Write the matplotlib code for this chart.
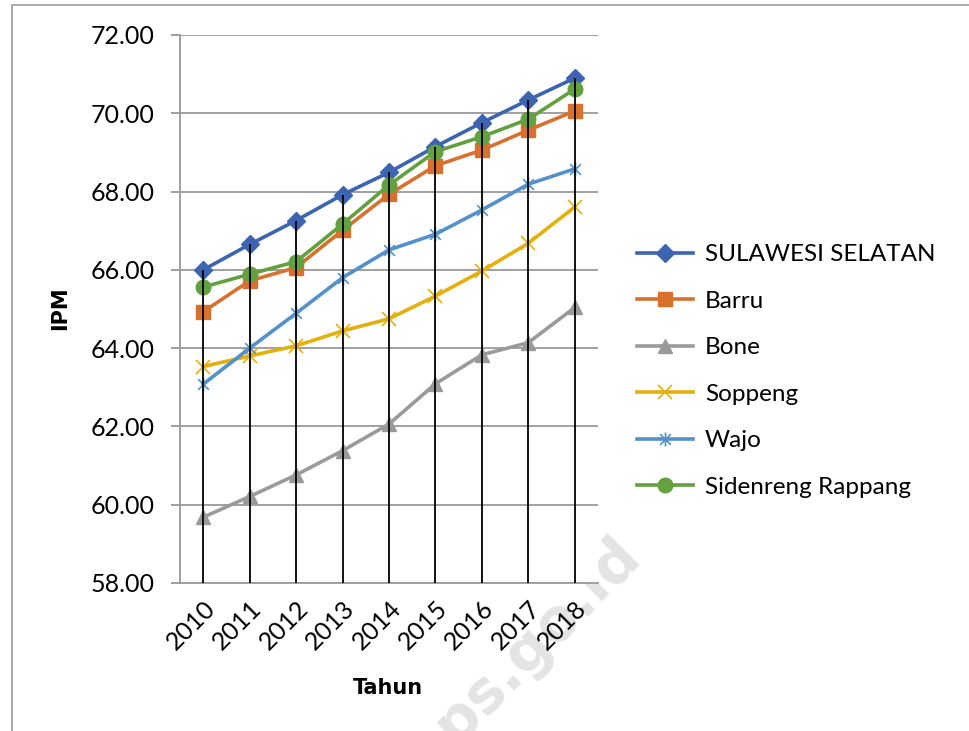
import matplotlib
matplotlib.use('Agg')
import matplotlib.pyplot as plt
from matplotlib.path import Path
from matplotlib.patches import Rectangle

years = ['2010', '2011', '2012', '2013', '2014', '2015', '2016', '2017', '2018']

sulsel = [66.00, 66.65, 67.26, 67.92, 68.49, 69.15, 69.76, 70.34, 70.90]
barru = [64.93, 65.72, 66.06, 67.01, 67.93, 68.66, 69.06, 69.57, 70.06]
bone = [59.68, 60.21, 60.76, 61.38, 62.06, 63.09, 63.83, 64.14, 65.04]
soppeng = [63.53, 63.80, 64.06, 64.44, 64.75, 65.33, 65.97, 66.68, 67.61]
wajo = [63.08, 64.00, 64.89, 65.80, 66.51, 66.91, 67.53, 68.19, 68.58]
sidrap = [65.56, 65.89, 66.21, 67.17, 68.17, 69.02, 69.40, 69.85, 70.62]

names = ['SULAWESI SELATAN', 'Barru', 'Bone', 'Soppeng', 'Wajo', 'Sidenreng Rappang']

# star marker like excel (x with a vertical bar)
star = Path([(-1, -1), (1, 1), (-1, 1), (1, -1), (0, -1.3), (0, 1.3)],
            [Path.MOVETO, Path.LINETO, Path.MOVETO, Path.LINETO, Path.MOVETO, Path.LINETO])

styles = [
    ('#3C64B1', 'D', 9),
    ('#D8702E', 's', 9.5),
    ('#9A9A9A', '^', 10),
    ('#E6B00C', 'x', 10),
    ('#5291CB', star, 10),
    ('#63A03F', 'o', 10.5),
]

plt.rcParams['font.family'] = ['Lato', 'DejaVu Sans']

fig = plt.figure(figsize=(9.7, 7.31), dpi=100)
ax = fig.add_axes([180 / 970, 1 - 583 / 731, 418 / 970, 548 / 731])

x = list(range(len(years)))
all_series = [sulsel, barru, bone, soppeng, wajo, sidrap]
for vals, name, (col, mk, ms) in zip(all_series, names, styles):
    if mk == 'x' or isinstance(mk, Path):
        ax.plot(x, vals, color=col, lw=2.6, marker=mk, ms=ms, mew=1.2,
                mec=col, label=name, zorder=3)
    else:
        ax.plot(x, vals, color=col, lw=2.6, marker=mk, ms=ms, mfc=col,
                mec=col, label=name, zorder=3)

# drop lines from top series down to axis
tops = [max(v) for v in zip(*all_series)]
ax.vlines(x, 58, tops, color='black', lw=1.3, zorder=4)

ax.set_xlim(-0.5, len(years) - 0.5)
ax.set_ylim(58, 72)
ax.set_yticks([58, 60, 62, 64, 66, 68, 70, 72])
ax.set_yticklabels([f'{v:.2f}' for v in ax.get_yticks()], fontsize=18)
ax.set_xticks(x)
ax.set_xticklabels(years, fontsize=18, rotation=45, ha='right', va='top',
                   rotation_mode='anchor')
ax.yaxis.grid(True, color='#A0A0A0', lw=1.4, zorder=0)
ax.tick_params(axis='y', length=6.5, width=1.4, color='#A0A0A0', pad=12)
ax.tick_params(axis='x', length=0, pad=10)
for side in ['top', 'right']:
    ax.spines[side].set_visible(False)
ax.spines['left'].set_color('#A0A0A0')
ax.spines['left'].set_linewidth(1.4)
ax.spines['bottom'].set_color('#A0A0A0')
ax.spines['bottom'].set_linewidth(1.4)
ax.set_axisbelow(True)

fig.text(388 / 970, 1 - 688 / 731, 'Tahun', fontsize=15, fontweight='bold',
         family='DejaVu Sans', ha='center', va='center')
fig.text(60 / 970, 1 - 308 / 731, 'IPM', fontsize=15, fontweight='bold',
         family='DejaVu Sans', ha='center', va='center', rotation=90)

fig.legend(loc='center left', bbox_to_anchor=(637 / 970, 1 - 371 / 731),
           frameon=False, fontsize=17.5, handlelength=2.3, handletextpad=0.5,
           labelspacing=1.05, borderpad=0, borderaxespad=0)

# outer chart frame
fig.patches.append(Rectangle((12 / 970, -0.1), 1.2, 1 - 5 / 731 + 0.1,
                             transform=fig.transFigure, fill=False,
                             edgecolor='#A0A0A0', lw=1.3))

# watermark
fig.text(522 / 970, 1 - 655 / 731, 'bps.go.id', fontsize=42, fontweight='bold',
         family='DejaVu Sans', color='#E4E4E4', rotation=45, ha='center',
         va='center', zorder=-1)

fig.savefig('out.png', dpi=100)
